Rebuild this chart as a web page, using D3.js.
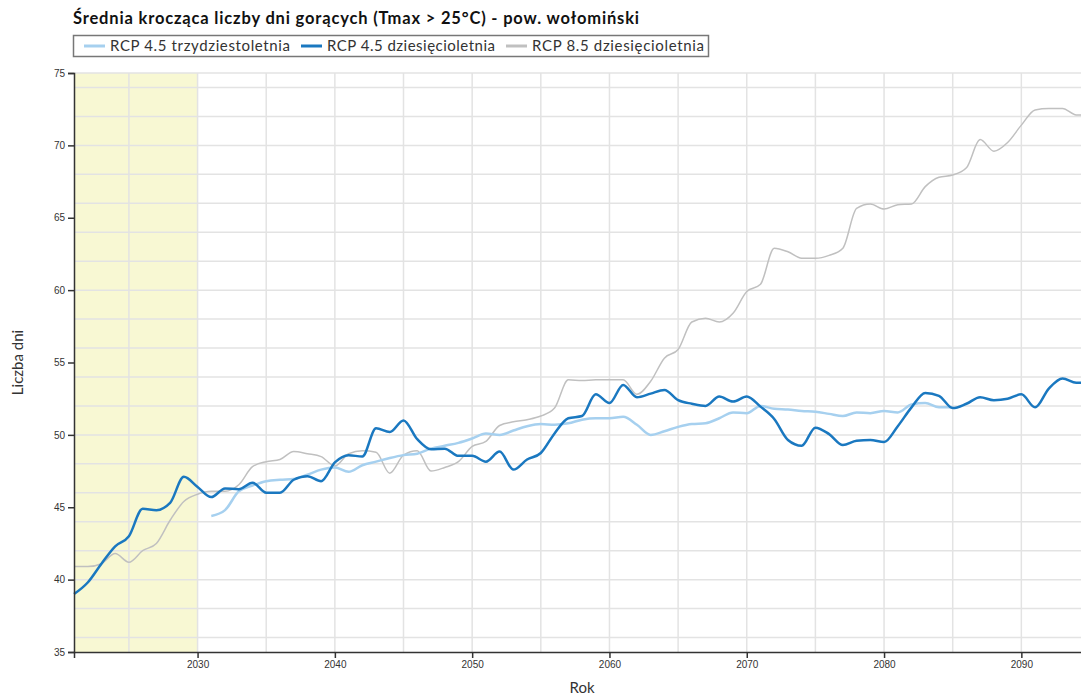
<!DOCTYPE html>
<html lang="pl">
<head>
<meta charset="utf-8">
<title>Średnia krocząca liczby dni gorących</title>
<script src="https://cdn.jsdelivr.net/npm/d3@7"></script>
<style>
  body { margin: 0; background: #fff; overflow: hidden; }
  #chart { width: 1081px; height: 697px; }
  .title { font-family: Lato, "Open Sans", sans-serif; font-weight: bold; font-size: 16.5px; fill: #111; }
  .legend text { font-family: Lato, "Open Sans", sans-serif; font-size: 15px; fill: #333; }
  .axis text { font-family: "Liberation Sans", Arial, sans-serif; font-size: 10px; fill: #333; }
  .axis path, .axis line { stroke: #333; stroke-width: 1.5; }
  .axis-title { font-family: Lato, "Open Sans", sans-serif; font-size: 15px; fill: #333; }
  .grid line { stroke: #e3e3e3; stroke-width: 1.5; }
</style>
</head>
<body>
<div id="chart"></div>
<script>
// Średnia krocząca liczby dni gorących - pow. wołomiński
const YEARS_DEC = d3.range(2021, 2096);
const YEARS_30 = d3.range(2031, 2086);

// RCP 4.5 dziesięcioletnia, 2021-2095
const RCP45_DEC = [
  39.0, 39.8, 41.1, 42.3, 43.0, 44.9, 44.8, 45.3, 47.1, 46.4,
  45.7, 46.3, 46.25, 46.7, 46.0, 46.0, 46.9, 47.15, 46.8, 48.1,
  48.6, 48.5, 50.45, 50.2, 51.0, 49.7, 49.0, 49.05, 48.55, 48.55,
  48.15, 48.85, 47.6, 48.3, 48.75, 50.1, 51.15, 51.3, 52.8, 52.2,
  53.45, 52.6, 52.85, 53.1, 52.4, 52.15, 52.0, 52.65, 52.3, 52.65,
  51.95, 51.1, 49.65, 49.25, 50.5, 50.05, 49.3, 49.6, 49.65, 49.5,
  50.6, 51.9, 52.9, 52.7, 51.85, 52.15, 52.6, 52.4, 52.5, 52.8,
  51.9, 53.2, 53.9, 53.6, 53.6
];

// RCP 8.5 dziesięcioletnia, 2021-2095
const RCP85_DEC = [
  40.9, 40.9, 41.1, 41.8, 41.2, 42.0, 42.5, 44.1, 45.4, 45.9,
  46.1, 46.1, 46.55, 47.8, 48.15, 48.3, 48.85, 48.7, 48.5, 47.85,
  48.7, 48.9, 48.8, 47.35, 48.6, 48.9, 47.5, 47.75, 48.15, 49.2,
  49.55, 50.65, 50.9, 51.05, 51.3, 51.85, 53.8, 53.75, 53.8, 53.8,
  53.8, 52.8, 53.7, 55.3, 55.9, 57.8, 58.05, 57.8, 58.4, 59.9,
  60.4, 62.9, 62.65, 62.2, 62.2, 62.4, 62.9, 65.65, 65.95, 65.6,
  65.9, 65.95, 67.15, 67.8, 67.95, 68.45, 70.4, 69.6, 70.2, 71.4,
  72.45, 72.55, 72.55, 72.1, 72.1
];

// RCP 4.5 trzydziestoletnia, 2031-2085
const RCP45_30 = [
  44.4, 44.8, 46.1, 46.5, 46.8, 46.9, 46.95, 47.25, 47.6, 47.75,
  47.45, 47.9, 48.15, 48.4, 48.6, 48.7, 49.05, 49.25, 49.45, 49.75,
  50.1, 50.0, 50.3, 50.6, 50.75, 50.7, 50.8, 51.05, 51.15, 51.15,
  51.25, 50.7, 50.0, 50.25, 50.55, 50.75, 50.8, 51.15, 51.55, 51.5,
  52.0, 51.8, 51.75, 51.65, 51.6, 51.45, 51.3, 51.55, 51.5, 51.65,
  51.55, 52.1, 52.2, 51.9, 51.9
];

const SERIES = [
  { label: "RCP 4.5 trzydziestoletnia", years: YEARS_30, values: RCP45_30, color: "#a6d0ef", width: 2.5 },
  { label: "RCP 4.5 dziesięcioletnia", years: YEARS_DEC, values: RCP45_DEC, color: "#1a78c0", width: 2.5 },
  { label: "RCP 8.5 dziesięcioletnia", years: YEARS_DEC, values: RCP85_DEC, color: "#c0c0c0", width: 1.5 },
];
const DRAW_ORDER = [2, 0, 1];

const Y_TICKS = [35, 40, 45, 50, 55, 60, 65, 70, 75];
const Y_GRID = d3.range(36, 76, 2);
const X_TICKS = [2030, 2040, 2050, 2060, 2070, 2080, 2090];
const X_GRID = d3.range(2025, 2095, 5);
const HISTORY_END = 2030;

const width = 1081;
const height = 697;
const margin = { top: 73, left: 74 };
const plotRight = 1090;
const plotBottom = 652;

const svg = d3.select("#chart").append("svg").attr("width", width).attr("height", height);

const x = d3.scaleLinear().domain([2021, 2095]).range([margin.left, plotRight]);
const y = d3.scaleLinear().domain([35, 75]).range([plotBottom, margin.top]);

// shaded period
svg.append("rect")
  .attr("x", x(2021))
  .attr("y", y(75))
  .attr("width", x(HISTORY_END) - x(2021))
  .attr("height", y(35) - y(75))
  .attr("fill", "#f8f8d3");

// grid
const grid = svg.append("g").attr("class", "grid");
grid.selectAll("line.h")
  .data(Y_GRID.concat([75]))
  .join("line")
  .attr("class", "h")
  .attr("x1", x(2021))
  .attr("x2", plotRight)
  .attr("y1", (d) => y(d))
  .attr("y2", (d) => y(d));
grid.selectAll("line.v")
  .data(X_GRID)
  .join("line")
  .attr("class", "v")
  .attr("x1", (d) => x(d))
  .attr("x2", (d) => x(d))
  .attr("y1", y(75))
  .attr("y2", y(35));

// lines
const line = d3.line()
  .x((d) => x(d[0]))
  .y((d) => y(d[1]))
  .curve(d3.curveMonotoneX);

DRAW_ORDER.forEach((i) => {
  const s = SERIES[i];
  svg.append("path")
    .datum(s.years.map((yr, k) => [yr, s.values[k]]))
    .attr("fill", "none")
    .attr("stroke", s.color)
    .attr("stroke-width", s.width)
    .attr("stroke-linejoin", "round")
    .attr("d", line);
});

// axes
svg.append("g")
  .attr("class", "axis")
  .attr("transform", `translate(0,${plotBottom})`)
  .call(d3.axisBottom(x).tickValues(X_TICKS).tickFormat(d3.format("d")).tickSize(6));

svg.append("g")
  .attr("class", "axis")
  .attr("transform", `translate(${margin.left},0)`)
  .call(d3.axisLeft(y).tickValues(Y_TICKS).tickSize(6));

svg.append("text")
  .attr("class", "axis-title")
  .attr("x", (margin.left + plotRight) / 2)
  .attr("y", 693)
  .attr("text-anchor", "middle")
  .text("Rok");

svg.append("text")
  .attr("class", "axis-title")
  .attr("transform", `translate(23,${(margin.top + plotBottom) / 2}) rotate(-90)`)
  .attr("text-anchor", "middle")
  .text("Liczba dni");

// title
svg.append("text")
  .attr("class", "title")
  .attr("x", 73)
  .attr("y", 24)
  .attr("textLength", 566)
  .attr("lengthAdjust", "spacing")
  .text("Średnia krocząca liczby dni gorących (Tmax > 25°C) - pow. wołomiński");

// legend
const legend = svg.append("g").attr("class", "legend");
legend.append("rect")
  .attr("x", 73.5)
  .attr("y", 35.5)
  .attr("width", 635)
  .attr("height", 21)
  .attr("fill", "#fff")
  .attr("stroke", "#777")
  .attr("stroke-width", 1.5);

const LEGEND_X = [84, 301, 506];
const LEGEND_TEXT_W = [180, 168, 172];
SERIES.forEach((s, i) => {
  const g = legend.append("g").attr("transform", `translate(${LEGEND_X[i]},46)`);
  g.append("line")
    .attr("x1", 0)
    .attr("x2", 21)
    .attr("stroke", s.color)
    .attr("stroke-width", 3);
  g.append("text")
    .attr("x", 26)
    .attr("y", 5)
    .attr("textLength", LEGEND_TEXT_W[i])
    .attr("lengthAdjust", "spacing")
    .text(s.label);
});
</script>
</body>
</html>
